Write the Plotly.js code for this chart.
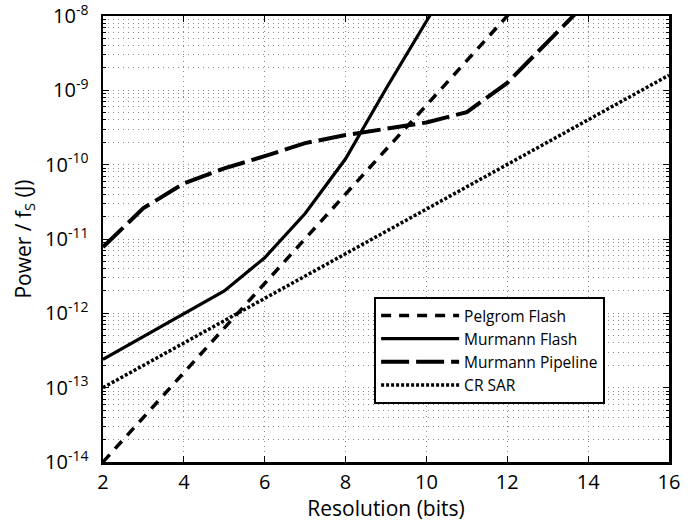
<!DOCTYPE html>
<html>
<head>
<meta charset="utf-8">
<script src="https://cdn.plot.ly/plotly-3.0.1.min.js"></script>
<style>
  html, body { margin: 0; padding: 0; background: #fff; }
  #chart { width: 697px; height: 527px; }
</style>
</head>
<body>
<div id="chart"></div>
<script>
// Energy per conversion (J) versus resolution (bits) for four ADC models
const pelgromBits = [2, 3, 4, 5, 6, 7, 8, 9, 10, 11, 12, 13];
const pelgromFlash = [1e-14, 4e-14, 1.6e-13, 6.3e-13, 2.5e-12, 1e-11, 4e-11, 1.6e-10, 6.3e-10, 2.5e-9, 1e-8, 4e-8];

const murmannFlashBits = [2, 3, 4, 5, 6, 7, 8, 9, 10, 11];
const murmannFlash = [2.4e-13, 4.9e-13, 1e-12, 2e-12, 5.6e-12, 2.2e-11, 1.2e-10, 1.05e-9, 8.5e-9, 7e-8];

const pipelineBits = [2, 3, 4, 5, 6, 7, 8, 9, 10, 11, 12, 13, 14];
const murmannPipeline = [7.8e-12, 2.6e-11, 5.6e-11, 8.9e-11, 1.3e-10, 1.95e-10, 2.5e-10, 3.0e-10, 3.7e-10, 5.1e-10, 1.26e-9, 4.5e-9, 1.6e-8];

const sarBits = [2, 3, 4, 5, 6, 7, 8, 9, 10, 11, 12, 13, 14, 15, 16];
const crSar = [1e-13, 2e-13, 4e-13, 8e-13, 1.6e-12, 3.2e-12, 6.3e-12, 1.26e-11, 2.5e-11, 5e-11, 1e-10, 2e-10, 4e-10, 8e-10, 1.6e-9];

const seriesNames = ['Pelgrom Flash', 'Murmann Flash', 'Murmann Pipeline', 'CR SAR'];
const xTicks = [2, 4, 6, 8, 10, 12, 14, 16];
const yExponents = [-14, -13, -12, -11, -10, -9, -8];

const FONT = '"Open Sans", "Noto Sans", sans-serif';

const traces = [
  { x: pelgromBits, y: pelgromFlash, name: seriesNames[0], mode: 'lines',
    line: { color: '#000', width: 3.5, dash: '10px,8px' } },
  { x: murmannFlashBits, y: murmannFlash, name: seriesNames[1], mode: 'lines',
    line: { color: '#000', width: 3.2 } },
  { x: pipelineBits, y: murmannPipeline, name: seriesNames[2], mode: 'lines',
    line: { color: '#000', width: 4, dash: '28px,7px' } },
  { x: sarBits, y: crSar, name: seriesNames[3], mode: 'lines',
    line: { color: '#000', width: 3.5, dash: '3px,2px' } }
];

const GRID_COLOR = '#8a8a8a';
const GRID_DASH = '1px,4px';

const layout = {
  width: 697, height: 527,
  margin: { l: 103, r: 28, t: 16, b: 65 },
  paper_bgcolor: '#fff', plot_bgcolor: '#fff',
  font: { family: FONT, color: '#000', size: 20 },
  showlegend: true,
  legend: {
    x: 0.479, y: 0.37, xanchor: 'left', yanchor: 'top',
    bgcolor: '#fff', bordercolor: '#000', borderwidth: 2,
    font: { family: FONT, size: 15.5, color: '#000' },
    itemwidth: 78, tracegroupgap: 0
  },
  xaxis: {
    range: [2, 16], tickvals: xTicks, ticktext: xTicks.map(String),
    showline: true, linecolor: '#000', linewidth: 2.5, mirror: 'ticks',
    ticks: 'inside', ticklen: 6, tickwidth: 1, tickcolor: '#000',
    ticklabelstandoff: 0, ticklabeloverflow: 'allow',
    showgrid: true, gridcolor: GRID_COLOR, griddash: GRID_DASH, gridwidth: 1,
    zeroline: false,
    title: { text: 'Resolution (bits)', font: { family: FONT, size: 21 }, standoff: 0 }
  },
  yaxis: {
    type: 'log', range: [-14.0002, -7.9998],
    tickvals: yExponents.map(e => Math.pow(10, e)),
    ticktext: yExponents.map(e => '10<sup>' + e + '</sup>'),
    showline: true, linecolor: '#000', linewidth: 2.5, mirror: 'ticks',
    ticks: 'inside', ticklen: 6, tickwidth: 1, tickcolor: '#000',
    ticklabelstandoff: 8, ticklabeloverflow: 'allow',
    showgrid: true, gridcolor: GRID_COLOR, griddash: GRID_DASH, gridwidth: 1,
    zeroline: false,
    minor: { dtick: 'D1', ticks: 'inside', ticklen: 3, tickcolor: '#000',
             showgrid: true, gridcolor: GRID_COLOR, griddash: GRID_DASH, gridwidth: 1 },
    title: { text: 'Power / f<sub>S</sub> (J)', font: { family: FONT, size: 21 }, standoff: 8 }
  }
};

Plotly.newPlot('chart', traces, layout, { staticPlot: true, displayModeBar: false });
</script>
</body>
</html>
